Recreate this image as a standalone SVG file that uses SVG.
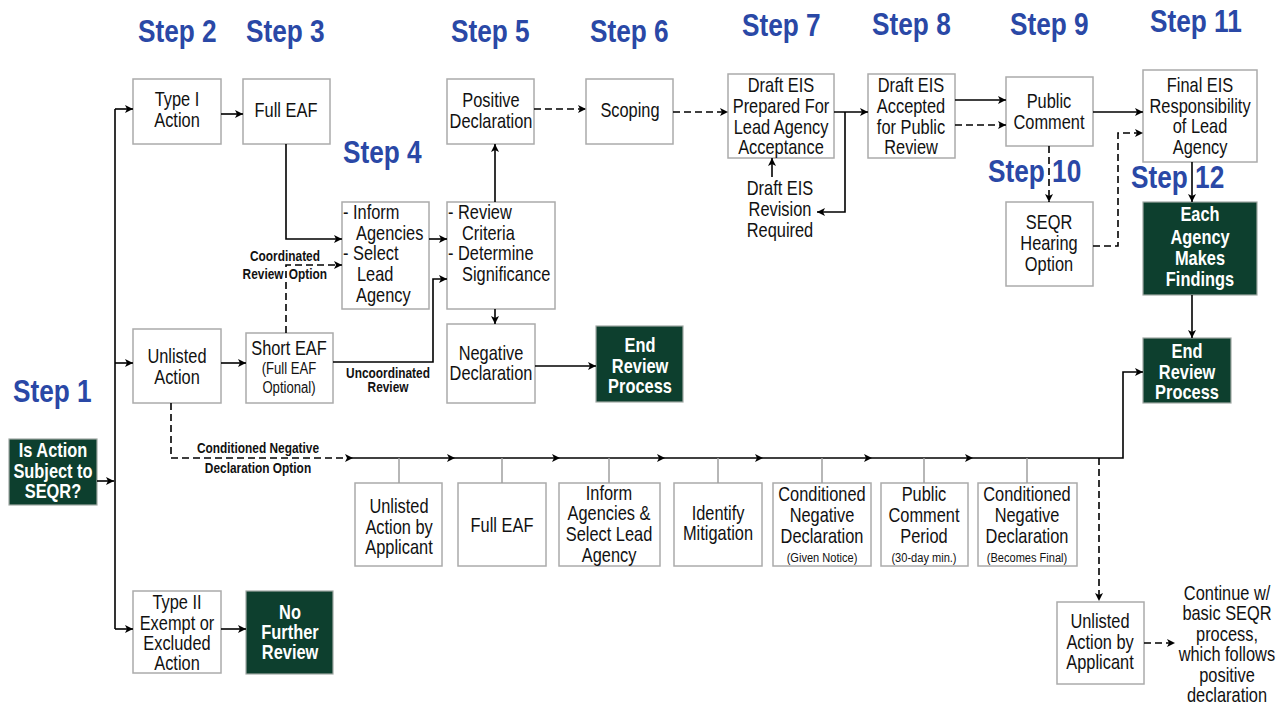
<svg xmlns="http://www.w3.org/2000/svg" width="1284" height="707" viewBox="0 0 1284 707">
<style>
.box{fill:#fff;stroke:#ababab;stroke-width:1.5}
.dbox{fill:#0d3f2e;stroke:#a0a8a4;stroke-width:1.2}
text{font-family:'Liberation Sans',Arial,sans-serif;fill:#111;transform-box:fill-box;transform:scaleX(0.82)}
.t{font-size:20px;text-anchor:middle;transform-origin:50% 50%}
.tl{font-size:20px;text-anchor:start;transform-origin:0% 50%}
.w{font-weight:bold;fill:#fff}
.step{font-size:32px;font-weight:bold;fill:#2a48a6;transform-origin:0% 50%}
.lbl{font-size:14.5px;font-weight:bold;text-anchor:middle;transform-origin:50% 50%}
.sm{font-size:13.5px;text-anchor:middle;transform-origin:50% 50%}
.md{font-size:16px;text-anchor:middle;transform-origin:50% 50%}
.c{stroke:#000;stroke-width:1.6;fill:none;marker-end:url(#a)}
.n{stroke:#000;stroke-width:1.6;fill:none}
.d{stroke-dasharray:7,4}
.tick{stroke:#a0a0a0;stroke-width:1.5;fill:none}
</style>
<defs>
<marker id="a" markerWidth="10" markerHeight="10" refX="9" refY="5" orient="auto" markerUnits="userSpaceOnUse">
<path d="M1,1 L9,5 L1,9 L3,5 z" fill="#000"/>
</marker>
</defs>
<rect width="1284" height="707" fill="#fff"/>

<g id="steps">
<text class="step" x="13" y="402">Step 1</text>
<text class="step" x="138" y="42">Step 2</text>
<text class="step" x="246" y="42">Step 3</text>
<text class="step" x="343" y="163">Step 4</text>
<text class="step" x="451" y="42">Step 5</text>
<text class="step" x="590" y="42">Step 6</text>
<text class="step" x="742" y="36">Step 7</text>
<text class="step" x="872" y="35">Step 8</text>
<text class="step" x="1010" y="35">Step 9</text>
<text class="step" x="988" y="182">Step 10</text>
<text class="step" x="1150" y="32">Step 11</text>
<text class="step" x="1131" y="188">Step 12</text>
</g>

<g id="n-seqr">
<rect class="dbox" x="9" y="439" width="88" height="66"/>
<text class="t w" x="53" y="457">Is Action</text>
<text class="t w" x="53" y="478">Subject to</text>
<text class="t w" x="53" y="498">SEQR?</text>
</g>
<g id="n-type1">
<rect class="box" x="133" y="79" width="88" height="65"/>
<text class="t" x="177" y="106">Type I</text>
<text class="t" x="177" y="127">Action</text>
</g>
<g id="n-fulleaf">
<rect class="box" x="243" y="79" width="87" height="65"/>
<text class="t" x="286" y="117">Full EAF</text>
</g>
<g id="n-unlisted">
<rect class="box" x="133" y="329" width="88" height="74"/>
<text class="t" x="177" y="363">Unlisted</text>
<text class="t" x="177" y="384">Action</text>
</g>
<g id="n-shorteaf">
<rect class="box" x="246" y="333" width="87" height="70"/>
<text class="t" x="289" y="355">Short EAF</text>
<text class="md" x="289" y="374">(Full EAF</text>
<text class="md" x="289" y="393">Optional)</text>
</g>
<g id="n-type2">
<rect class="box" x="133" y="591" width="88" height="82"/>
<text class="t" x="177" y="609">Type II</text>
<text class="t" x="177" y="630">Exempt or</text>
<text class="t" x="177" y="650">Excluded</text>
<text class="t" x="177" y="670">Action</text>
</g>
<g id="n-nofurther">
<rect class="dbox" x="246" y="591" width="87" height="83"/>
<text class="t w" x="290" y="619">No</text>
<text class="t w" x="290" y="639">Further</text>
<text class="t w" x="290" y="659">Review</text>
</g>
<g id="n-inform">
<rect class="box" x="342" y="202" width="87" height="107"/>
<text class="tl" x="343" y="219">-</text><text class="tl" x="353" y="219">Inform</text>
<text class="tl" x="356" y="240">Agencies</text>
<text class="tl" x="343" y="260">-</text><text class="tl" x="353" y="260">Select</text>
<text class="tl" x="357" y="281">Lead</text>
<text class="tl" x="356" y="302">Agency</text>
</g>
<g id="n-review">
<rect class="box" x="447" y="202" width="108" height="107"/>
<text class="tl" x="448" y="219">-</text><text class="tl" x="458" y="219">Review</text>
<text class="tl" x="462" y="240">Criteria</text>
<text class="tl" x="448" y="260">-</text><text class="tl" x="458" y="260">Determine</text>
<text class="tl" x="462" y="281">Significance</text>
</g>
<g id="n-positive">
<rect class="box" x="447" y="79" width="87" height="65"/>
<text class="t" x="491" y="107">Positive</text>
<text class="t" x="491" y="128">Declaration</text>
</g>
<g id="n-negative">
<rect class="box" x="447" y="324" width="88" height="79"/>
<text class="t" x="491" y="360">Negative</text>
<text class="t" x="491" y="380">Declaration</text>
</g>
<g id="n-end1">
<rect class="dbox" x="596" y="326" width="87" height="76"/>
<text class="t w" x="640" y="352">End</text>
<text class="t w" x="640" y="373">Review</text>
<text class="t w" x="640" y="393">Process</text>
</g>
<g id="n-scoping">
<rect class="box" x="586" y="79" width="87" height="65"/>
<text class="t" x="630" y="117">Scoping</text>
</g>
<g id="n-drafteis">
<rect class="box" x="728" y="74" width="106" height="84"/>
<text class="t" x="781" y="92">Draft EIS</text>
<text class="t" x="781" y="113">Prepared For</text>
<text class="t" x="781" y="134">Lead Agency</text>
<text class="t" x="781" y="154">Acceptance</text>
</g>
<g id="n-revision">
<text class="t" x="780" y="195">Draft EIS</text>
<text class="t" x="780" y="216">Revision</text>
<text class="t" x="780" y="237">Required</text>
</g>
<g id="n-accepted">
<rect class="box" x="868" y="74" width="87" height="84"/>
<text class="t" x="911" y="92">Draft EIS</text>
<text class="t" x="911" y="113">Accepted</text>
<text class="t" x="911" y="134">for Public</text>
<text class="t" x="911" y="154">Review</text>
</g>
<g id="n-public">
<rect class="box" x="1006" y="77" width="87" height="69"/>
<text class="t" x="1049" y="108">Public</text>
<text class="t" x="1049" y="129">Comment</text>
</g>
<g id="n-hearing">
<rect class="box" x="1006" y="202" width="87" height="84"/>
<text class="t" x="1049" y="229">SEQR</text>
<text class="t" x="1049" y="250">Hearing</text>
<text class="t" x="1049" y="271">Option</text>
</g>
<g id="n-final">
<rect class="box" x="1143" y="70" width="114" height="92"/>
<text class="t" x="1200" y="92">Final EIS</text>
<text class="t" x="1200" y="113">Responsibility</text>
<text class="t" x="1200" y="133">of Lead</text>
<text class="t" x="1200" y="154">Agency</text>
</g>
<g id="n-findings">
<rect class="dbox" x="1143" y="202" width="114" height="93"/>
<text class="t w" x="1200" y="221">Each</text>
<text class="t w" x="1200" y="244">Agency</text>
<text class="t w" x="1200" y="265">Makes</text>
<text class="t w" x="1200" y="286">Findings</text>
</g>
<g id="n-end2">
<rect class="dbox" x="1143" y="338" width="88" height="65"/>
<text class="t w" x="1187" y="358">End</text>
<text class="t w" x="1187" y="379">Review</text>
<text class="t w" x="1187" y="399">Process</text>
</g>
<g id="n-b1">
<rect class="box" x="355" y="483" width="87" height="83"/>
<text class="t" x="399" y="513">Unlisted</text>
<text class="t" x="399" y="534">Action by</text>
<text class="t" x="399" y="554">Applicant</text>
</g>
<g id="n-b2">
<rect class="box" x="458" y="483" width="88" height="83"/>
<text class="t" x="502" y="532">Full EAF</text>
</g>
<g id="n-b3">
<rect class="box" x="559" y="483" width="101" height="83"/>
<text class="t" x="609" y="500">Inform</text>
<text class="t" x="609" y="520">Agencies &amp;</text>
<text class="t" x="609" y="541">Select Lead</text>
<text class="t" x="609" y="562">Agency</text>
</g>
<g id="n-b4">
<rect class="box" x="674" y="483" width="88" height="83"/>
<text class="t" x="718" y="520">Identify</text>
<text class="t" x="718" y="540">Mitigation</text>
</g>
<g id="n-b5">
<rect class="box" x="773" y="483" width="98" height="83"/>
<text class="t" x="822" y="501">Conditioned</text>
<text class="t" x="822" y="522">Negative</text>
<text class="t" x="822" y="543">Declaration</text>
<text class="sm" x="822" y="562">(Given Notice)</text>
</g>
<g id="n-b6">
<rect class="box" x="881" y="483" width="87" height="83"/>
<text class="t" x="924" y="501">Public</text>
<text class="t" x="924" y="522">Comment</text>
<text class="t" x="924" y="543">Period</text>
<text class="sm" x="924" y="562">(30-day min.)</text>
</g>
<g id="n-b7">
<rect class="box" x="978" y="483" width="99" height="83"/>
<text class="t" x="1027" y="501">Conditioned</text>
<text class="t" x="1027" y="522">Negative</text>
<text class="t" x="1027" y="543">Declaration</text>
<text class="sm" x="1027" y="562">(Becomes Final)</text>
</g>
<g id="n-unlisted2">
<rect class="box" x="1057" y="602" width="87" height="82"/>
<text class="t" x="1100" y="628">Unlisted</text>
<text class="t" x="1100" y="649">Action by</text>
<text class="t" x="1100" y="669">Applicant</text>
</g>
<g id="n-continue">
<text class="t" x="1227" y="600">Continue w/</text>
<text class="t" x="1227" y="620">basic SEQR</text>
<text class="t" x="1227" y="641">process,</text>
<text class="t" x="1227" y="661">which follows</text>
<text class="t" x="1227" y="682">positive</text>
<text class="t" x="1227" y="702">declaration</text>
</g>

<g id="labels">
<text class="lbl" x="285" y="261">Coordinated</text>
<text class="lbl" x="263" y="279">Review</text>
<text class="lbl" x="308" y="279">Option</text>
<text class="lbl" x="388" y="378">Uncoordinated</text>
<text class="lbl" x="388" y="392">Review</text>
<text class="lbl" x="258" y="453">Conditioned Negative</text>
<text class="lbl" x="258" y="473">Declaration Option</text>
</g>

<g id="connectors">
<path class="c" d="M97,481 H114"/>
<path class="n" d="M115,109 V629"/>
<path class="c" d="M115,109 H133"/>
<path class="c" d="M115,363 H133"/>
<path class="c" d="M115,629 H133"/>
<path class="c" d="M221,114 H243"/>
<path class="c" d="M286,144 V239 H342"/>
<path class="c d" d="M286,333 V265 H342"/>
<path class="c" d="M221,363 H246"/>
<path class="c" d="M333,362 H433 V279 H447"/>
<path class="c" d="M429,239 H447"/>
<path class="c" d="M495,202 V144"/>
<path class="c" d="M495,309 V324"/>
<path class="c" d="M535,366 H596"/>
<path class="c d" d="M534,109 H586"/>
<path class="c d" d="M673,112 H728"/>
<path class="c" d="M834,112 H868"/>
<path class="c" d="M845,112 V212 H817"/>
<path class="c" d="M772,177 V158"/>
<path class="c" d="M955,100 H1006"/>
<path class="c d" d="M955,125 H1006"/>
<path class="c" d="M1093,112 H1143"/>
<path class="c d" d="M1049,146 V202"/>
<path class="c d" d="M1093,246 H1118 V133 H1143"/>
<path class="c" d="M1192,162 V202"/>
<path class="c" d="M1192,295 V338"/>
<path class="c" d="M221,629 H246"/>
<path class="c d" d="M171,403 V458 H353"/>
<path class="c" d="M353,458 H455"/>
<path class="c" d="M455,458 H560"/>
<path class="c" d="M560,458 H665"/>
<path class="c" d="M665,458 H763"/>
<path class="c" d="M763,458 H872"/>
<path class="c" d="M872,458 H973"/>
<path class="c" d="M973,458 H1123 V372 H1143"/>
<path class="tick" d="M399,458 V483 M502,458 V483 M609,458 V483 M718,458 V483 M822,458 V483 M924,458 V483 M1027,458 V483"/>
<path class="c d" d="M1099,458 V601"/>
<path class="c d" d="M1144,643 H1175"/>
</g>
</svg>
